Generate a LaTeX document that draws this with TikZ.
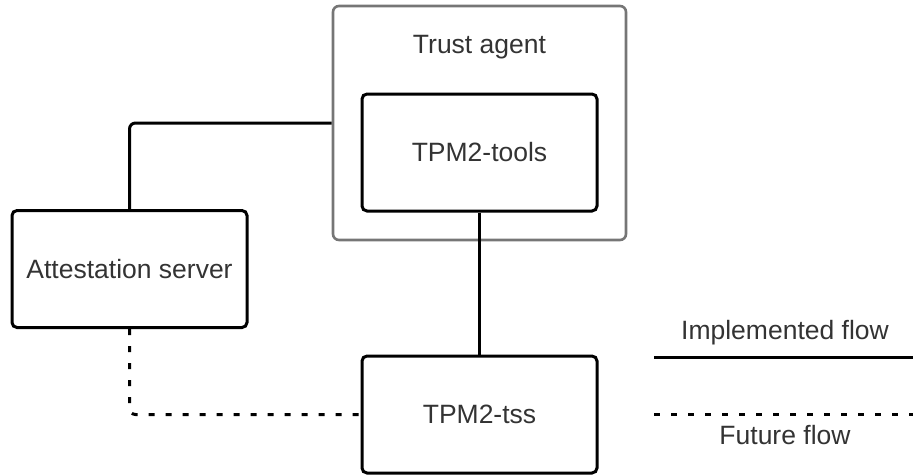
\documentclass[tikz,border=0pt]{standalone}
\usepackage{fontspec}
\setmainfont{Liberation Sans}
\usetikzlibrary{positioning}
\definecolor{boxgray}{HTML}{767676}
\definecolor{txtgray}{HTML}{333333}
\begin{document}
\begin{tikzpicture}[x=1pt,y=-1pt,
    component/.style ={rectangle, draw, line width=3pt, rounded corners=5pt,
      minimum width=235pt, minimum height=117pt, text=txtgray,
      font=\fontsize{26.5}{31}\selectfont},
    container/.style ={rectangle, draw=boxgray, line width=2.6pt, rounded corners=6pt,
      minimum width=293pt, minimum height=234pt},
    caption/.style ={text=txtgray, font=\fontsize{26.5}{31}\selectfont},
    implflow/.style ={line width=3pt, rounded corners=6pt},
    futureflow/.style ={line width=3pt, rounded corners=6pt, dash pattern=on 6pt off 11pt}]
   \useasboundingbox (0,0) rectangle (913,475);
   \node[container] (agent) at (479.5,123)  {};
   \node[caption] (agentlabel) at (479.5,47)  {Trust agent};
   \node[component] (tools) at (479.5,152.5)  {TPM2-tools};
   \node[component] (server) at (129.5,269)  {Attestation server};
   \node[component] (tss) at (479.5,414.5)  {TPM2-tss};

   \draw[implflow] (server.north) |- (agent.west);
   \draw[implflow] (tools.south) to (tss.north);
   \draw[futureflow] (server.south) |- (tss.west);

   % legend
   \coordinate (impla) at (654,357);
   \coordinate (implb) at (913,357);
   \coordinate (futa) at (654,414.5);
   \coordinate (futb) at (913,414.5);
   \node[caption] (impllabel) at (785,333)  {Implemented flow};
   \node[caption] (futlabel) at (785,435)  {Future flow};
   \draw[implflow] (impla) to (implb);
   \draw[futureflow] (futa) to (futb);
 \end{tikzpicture}
\end{document}
